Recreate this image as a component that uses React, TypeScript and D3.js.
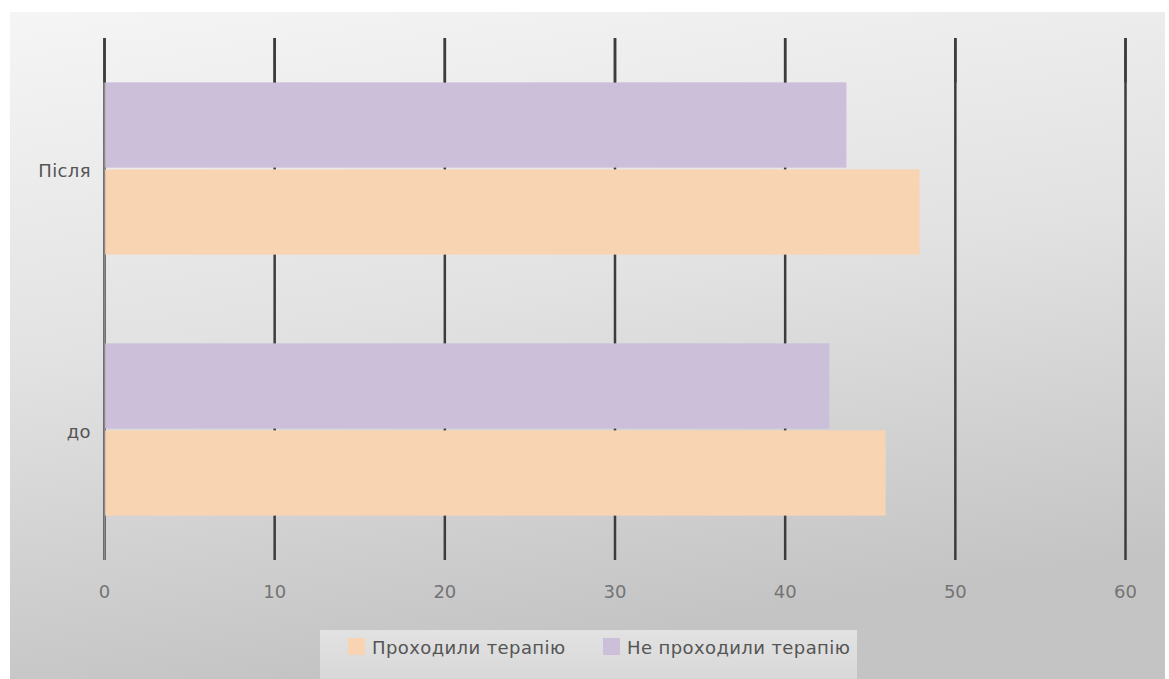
import React from "react";
import * as d3 from "d3";

const categories = ["Після", "до"];
const seriesNames = ["Не проходили терапію", "Проходили терапію"];
const notTherapy = [43.6, 42.6];
const therapy = [47.9, 45.9];
const xTicks = [0, 10, 20, 30, 40, 50, 60];
const legendOrder = ["Проходили терапію", "Не проходили терапію"];

const W = 1169;
const H = 679;
const colors: Record<string, string> = {
  "Проходили терапію": "#f9d4b3",
  "Не проходили терапію": "#cbbfd9",
};
const FONT = "'DejaVu Sans', 'Noto Sans', sans-serif";

export default function App() {
  const left = 104.5;
  const right = 1125.5;
  const top = 38;
  const bottom = 560;
  const x = d3.scaleLinear().domain([0, 60]).range([left, right]);
  const y = d3.scaleBand<string>().domain(categories).range([top, bottom]).paddingInner(0.34).paddingOuter(0.17);
  const inner = d3.scaleBand<string>().domain(seriesNames).range([0, y.bandwidth()]).paddingInner(0.02);
  const values: Record<string, number[]> = {
    "Не проходили терапію": notTherapy,
    "Проходили терапію": therapy,
  };

  return (
    <svg width={W} height={H} style={{ position: "absolute", left: 0, top: 0, display: "block" }}>
      <defs>
        <linearGradient id="bg" x1="0" y1="0" x2="0.25" y2="1">
          <stop offset="0" stopColor="#f5f5f5" />
          <stop offset="0.5" stopColor="#e2e2e2" />
          <stop offset="1" stopColor="#c4c4c4" />
        </linearGradient>
        <linearGradient id="leg" x1="0" y1="0" x2="0" y2="1">
          <stop offset="0" stopColor="#e2e2e2" />
          <stop offset="1" stopColor="#d8d8d8" />
        </linearGradient>
      </defs>
      <rect x={0} y={0} width={W} height={H} fill="#ffffff" />
      <rect x={10} y={12} width={1155} height={H - 12} fill="url(#bg)" />

      {/* vertical gridlines */}
      {xTicks.map((t) => (
        <line key={t} x1={x(t)} x2={x(t)} y1={top} y2={bottom} stroke="#3c3c3c" strokeWidth={2.5} />
      ))}

      {/* bars */}
      {categories.map((c, i) =>
        seriesNames.map((s) => (
          <rect
            key={c + s}
            x={x(0)}
            y={(y(c) as number) + (inner(s) as number)}
            width={x(values[s][i]) - x(0)}
            height={inner.bandwidth()}
            fill={colors[s]}
          />
        ))
      )}
      <line x1={x(0)} x2={x(0)} y1={top} y2={bottom} stroke="#8a8a8a" strokeWidth={1.5} />
      {xTicks.map((t) => (
        <line key={"t" + t} x1={x(t)} x2={x(t)} y1={top} y2={(y(categories[0]) as number)} stroke="#3c3c3c" strokeWidth={2.5} />
      ))}

      {/* category labels */}
      {categories.map((c) => (
        <text
          key={c}
          x={91}
          y={(y(c) as number) + y.bandwidth() / 2 + 2}
          textAnchor="end"
          dominantBaseline="central"
          fontFamily={FONT}
          fontSize={18}
          letterSpacing={0.4}
          fill="#555"
        >
          {c}
        </text>
      ))}

      {/* x tick labels */}
      {xTicks.map((t) => (
        <text key={"l" + t} x={x(t)} y={591} textAnchor="middle" dominantBaseline="central" fontFamily={FONT} fontSize={18} fill="#747474">
          {t}
        </text>
      ))}

      {/* legend */}
      <rect x={320} y={630} width={537} height={H - 630} fill="url(#leg)" />
      {legendOrder.map((s, i) => {
        const lx = i === 0 ? 348 : 603;
        return (
          <g key={s}>
            <rect x={lx} y={638} width={17} height={17} fill={colors[s]} />
            <text x={lx + 24} y={647} dominantBaseline="central" fontFamily={FONT} fontSize={18} letterSpacing={0.4} fill="#555">
              {s}
            </text>
          </g>
        );
      })}
    </svg>
  );
}
